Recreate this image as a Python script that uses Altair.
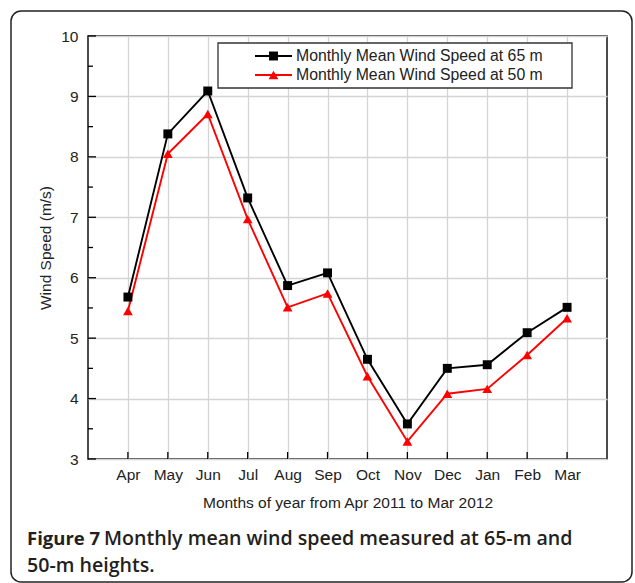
import altair as alt
import pandas as pd

months = ["Apr", "May", "Jun", "Jul", "Aug", "Sep", "Oct", "Nov", "Dec", "Jan", "Feb", "Mar"]
speed_65 = [5.68, 8.38, 9.09, 7.32, 5.87, 6.08, 4.65, 3.58, 4.50, 4.56, 5.09, 5.51]
speed_50 = [5.45, 8.05, 8.71, 6.97, 5.51, 5.74, 4.37, 3.29, 4.08, 4.16, 4.72, 5.33]
series_names = ["Monthly Mean Wind Speed at 65 m", "Monthly Mean Wind Speed at 50 m"]
series_colors = ["#000000", "#ff0000"]
series_shapes = ["square", "triangle-up"]
series_sizes = [80, 95]
y_major = [3, 4, 5, 6, 7, 8, 9, 10]
y_minor = [3.5, 4.5, 5.5, 6.5, 7.5, 8.5, 9.5]
x_title = "Months of year from Apr 2011 to Mar 2012"
y_title = "Wind Speed (m/s)"
caption_bold = "Figure 7"
caption_rest = ["Monthly mean wind speed measured at 65-m and", "50-m heights."]

df = pd.DataFrame({
    "month": months * 2,
    "speed": speed_65 + speed_50,
    "series": [series_names[0]] * len(months) + [series_names[1]] * len(months),
})
df_major = pd.DataFrame({"v": y_major})
df_minor = pd.DataFrame({"v": y_minor})
df_months = pd.DataFrame({"month": months})

W, H = 519, 423
FONT = "Arial, Liberation Sans, sans-serif"
GRID = "#d4d4d4"
FS = 15.5

x_scale = alt.Scale(type="point", padding=1, domain=months)
y_scale = alt.Scale(domain=[3, 10], nice=False, zero=False)
color_scale = alt.Scale(domain=series_names, range=series_colors)
shape_scale = alt.Scale(domain=series_names, range=series_shapes)
size_scale = alt.Scale(domain=series_names, range=series_sizes)

x_axis = alt.Axis(title=x_title, grid=True, gridColor=GRID, gridWidth=1.3, tickSize=0,
                  domain=False, labelAngle=0, labelPadding=8, titlePadding=13,
                  labelFont=FONT, labelFontSize=FS, labelColor="#222",
                  titleFont=FONT, titleFontSize=FS, titleFontWeight="normal", titleColor="#222")
y_axis = alt.Axis(title=y_title, values=y_major, format="d", grid=True, gridColor=GRID, gridWidth=1.3,
                  tickSize=0, domain=False, labelPadding=10,
                  labelFont=FONT, labelFontSize=FS, labelColor="#222",
                  titleFont=FONT, titleFontSize=FS, titleFontWeight="normal", titleColor="#222",
                  titlePadding=7)

base = alt.Chart(df)

grid_layer = alt.Chart(df_months).mark_rule(opacity=0).encode(
    x=alt.X("month:N", scale=x_scale, sort=months, axis=x_axis),
    y=alt.value(0),
)

lines = base.mark_line(strokeWidth=1.9).encode(
    x=alt.X("month:N", scale=x_scale, sort=months, axis=x_axis),
    y=alt.Y("speed:Q", scale=y_scale, axis=y_axis),
    color=alt.Color("series:N", scale=color_scale, legend=None),
)
points = base.mark_point(filled=True, opacity=1).encode(
    x=alt.X("month:N", scale=x_scale, sort=months),
    y=alt.Y("speed:Q", scale=y_scale),
    color=alt.Color("series:N", scale=color_scale, legend=None),
    shape=alt.Shape("series:N", scale=shape_scale, legend=None),
    size=alt.Size("series:N", scale=size_scale, legend=None),
)

x_ticks = alt.Chart(df_months).mark_rule(color="black", strokeWidth=1.3).encode(
    x=alt.X("month:N", scale=x_scale, sort=months),
    y=alt.value(H), y2=alt.value(H - 7),
)
y_ticks_major = alt.Chart(df_major).mark_rule(color="black", strokeWidth=1.3).encode(
    y=alt.Y("v:Q", scale=y_scale), x=alt.value(0), x2=alt.value(8),
)
y_ticks_minor = alt.Chart(df_minor).mark_rule(color="black", strokeWidth=1.3).encode(
    y=alt.Y("v:Q", scale=y_scale), x=alt.value(0), x2=alt.value(5),
)

# legend box
leg_box = alt.Chart(df_months.head(1)).mark_rect(fill="white", stroke="#333", strokeWidth=1.3).encode(
    x=alt.value(130), x2=alt.value(484), y=alt.value(7), y2=alt.value(52),
)
leg_layers = []
for i, (name, col, shp, sz) in enumerate(zip(series_names, series_colors, series_shapes, series_sizes)):
    yy = 20 + 19 * i
    d = pd.DataFrame({"series": [name]})
    leg_layers.append(alt.Chart(d).mark_rule(color=col, strokeWidth=1.9).encode(
        x=alt.value(167), x2=alt.value(204), y=alt.value(yy)))
    leg_layers.append(alt.Chart(d).mark_point(filled=True, opacity=1, size=sz, color=col, shape=shp).encode(
        x=alt.value(185.5), y=alt.value(yy)))
    leg_layers.append(alt.Chart(d).mark_text(align="left", baseline="middle", font=FONT, fontSize=15.8,
                                             color="#222").encode(
        x=alt.value(208), y=alt.value(yy), text="series:N"))

# figure frame and caption
frame = alt.Chart(df_months.head(1)).mark_rect(fill=None, stroke="#222", strokeWidth=1.5, cornerRadius=10).encode(
    x=alt.value(-77), x2=alt.value(544), y=alt.value(-25), y2=alt.value(546),
)
cap_bold = alt.Chart(pd.DataFrame({"t": [caption_bold]})).mark_text(
    align="left", baseline="alphabetic", font="Open Sans", fontSize=18.5, fontWeight="bold", color="#231f20"
).encode(x=alt.value(-61), y=alt.value(509), text="t:N")
cap_l1 = alt.Chart(pd.DataFrame({"t": [caption_rest[0]]})).mark_text(
    align="left", baseline="alphabetic", font="Open Sans", fontSize=19.6, fontWeight=600, color="#231f20"
).encode(x=alt.value(16), y=alt.value(509), text="t:N")
cap_l2 = alt.Chart(pd.DataFrame({"t": [caption_rest[1]]})).mark_text(
    align="left", baseline="alphabetic", font="Open Sans", fontSize=19.6, fontWeight=600, color="#231f20"
).encode(x=alt.value(-61), y=alt.value(536), text="t:N")

chart = alt.layer(
    grid_layer, lines, points, x_ticks, y_ticks_major, y_ticks_minor,
    leg_box, *leg_layers, frame, cap_bold, cap_l1, cap_l2,
).properties(
    width=W, height=H,
    autosize=alt.AutoSizeParams(type="none"),
    padding={"left": 88, "top": 36, "right": 28, "bottom": 124},
    background="white",
).configure_view(stroke="#111", strokeWidth=1.5)

chart.save("out.html", embed_options={"renderer": "svg", "actions": False})
